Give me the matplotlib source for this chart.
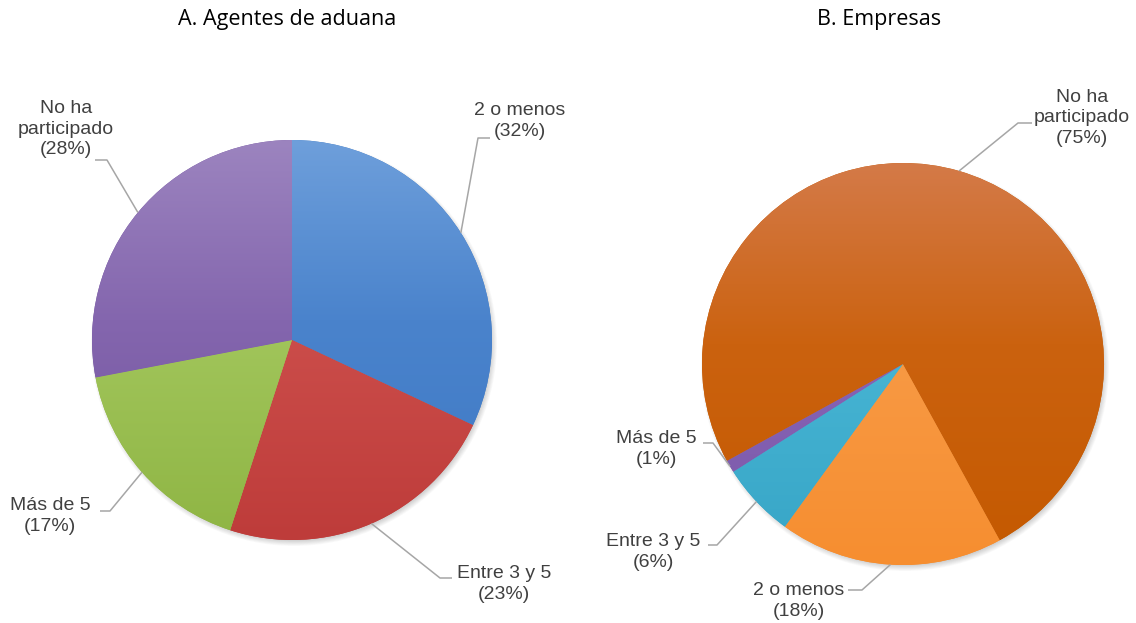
"""
    Participacion en capacitaciones - agentes de aduana vs empresas
"""
import numpy as np
import matplotlib
matplotlib.use("Agg")
import matplotlib.pyplot as plt
from matplotlib.colors import LinearSegmentedColormap
from matplotlib.patches import Circle


### data
categories = ["2 o menos", "Entre 3 y 5", "Más de 5", "No ha\nparticipado"]
pct_agentes = [32, 23, 17, 28]
pct_empresas = [18, 6, 1, 75]
titles = ["A. Agentes de aduana", "B. Empresas"]

### styles (gradient stops top -> bottom of each slice)
grad_agentes = [("#6E9FDB", "#4A83CC", "#3E79C4"), ("#DA7672", "#CC4E4B", "#BE3C3A"),
                ("#B6D57A", "#A2C65C", "#8FB544"), ("#9C84BF", "#8466AE", "#71529D")]
grad_empresas = [("#FBAE66", "#F89A45", "#F68E30"), ("#5CC3DD", "#47B5D4", "#37A5C6"),
                 ("#9574C4", "#8864B6", "#7A58A8"), ("#D47A48", "#CB620F", "#C45900")]

W, H = 1136, 623
TEXT_C = "#404040"
LINE_C = "#A6A6A6"

# layout in pixels (x from left, y from top)
pies = [
    dict(cx=292, cy=340, r=200, start=90,
         labels=[((520, 121), (478, 138), (490, 138)),
                 ((504, 584), (440, 578), (452, 578)),
                 ((50, 516), (110, 511), (100, 511)),
                 ((66, 129), (107, 160), (95, 160))],
         title=(287, 20)),
    dict(cx=903, cy=364, r=201, start=-61.2,
         labels=[((799, 601), (862, 590), (848, 590)),
                 ((653, 552), (717, 545), (708, 545)),
                 ((656, 449), (713, 443), (703, 443)),
                 ((1082, 118), (1018, 123), (1032, 123))],
         title=(879, 20)),
]


def py(y):
    return H - y


def gradient_fill(ax, wedge, stops, cx, cy, r):
    cmap = LinearSegmentedColormap.from_list("g", list(zip([0, 0.45, 1], stops)))
    grad = np.linspace(0, 1, 256).reshape(-1, 1)
    im = ax.imshow(grad, cmap=cmap, extent=(cx - r, cx + r, cy - r, cy + r),
                   origin="upper", aspect="auto", zorder=3, interpolation="bilinear")
    im.set_clip_path(wedge)


fig = plt.figure(figsize=(W / 100, H / 100), dpi=100)
ax = fig.add_axes([0, 0, 1, 1])

for p, values, grads, title in zip(pies, [pct_agentes, pct_empresas],
                                   [grad_agentes, grad_empresas], titles):
    cx, cy, r = p["cx"], py(p["cy"]), p["r"]

    # soft drop shadow
    for i in range(8):
        ax.add_patch(Circle((cx + 2, cy - 3), r + 3 - i * 0.8, color="#000000",
                            alpha=0.025, lw=0, zorder=1))

    wedges, _ = ax.pie(values, startangle=p["start"], counterclock=False,
                       center=(cx, cy), radius=r,
                       colors=[g[-1] for g in grads],
                       wedgeprops=dict(lw=0, zorder=2))
    for w, g in zip(wedges, grads):
        w.set_zorder(2)
        gradient_fill(ax, w, g, cx, cy, r)

    # labels with leader lines
    for w, cat, val, (txt, elbow, end) in zip(wedges, categories, values, p["labels"]):
        mid = np.deg2rad((w.theta1 + w.theta2) / 2)
        ex, ey = cx + r * np.cos(mid), cy + r * np.sin(mid)
        ax.plot([ex, elbow[0], end[0]], [ey, py(elbow[1]), py(end[1])],
                color=LINE_C, lw=1.1, zorder=4, solid_capstyle="butt")
        ax.text(txt[0], py(txt[1]), f"{cat}\n({val}%)", ha="center", va="center",
                multialignment="center", fontsize=14, color=TEXT_C,
                family="Liberation Sans", linespacing=1.25, zorder=5)

    ax.text(p["title"][0], py(p["title"][1]), title, ha="center", va="center",
            fontsize=15.5, color="#000000", family="Open Sans")

ax.set_xlim(0, W)
ax.set_ylim(0, H)
ax.set_aspect("equal")
ax.axis("off")

fig.savefig("out.png", dpi=100)
